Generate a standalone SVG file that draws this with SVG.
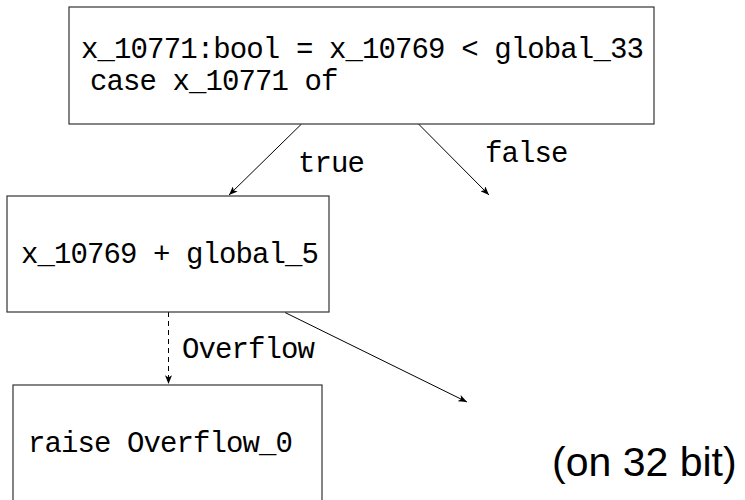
<svg xmlns="http://www.w3.org/2000/svg" width="745" height="500" viewBox="0 0 745 500">
  <style>
    .box { fill: #ffffff; stroke: #333333; stroke-width: 1.2; }
    .code { font-family: "Liberation Mono", "DejaVu Sans Mono", monospace; font-size: 29px; letter-spacing: -0.9px; fill: #000000; }
    .edge { fill: none; stroke: #000000; stroke-width: 1; }
    .dashed { stroke-dasharray: 5 4; }
    .note { font-family: "Liberation Sans", "DejaVu Sans", sans-serif; font-size: 41px; fill: #000000; }
  </style>
  <defs>
    <marker id="arrow" viewBox="0 0 10 8" refX="10" refY="4" markerWidth="9" markerHeight="7" markerUnits="userSpaceOnUse" orient="auto">
      <path d="M0,0 L10,4 L0,8 L2.5,4 Z" fill="#000000"/>
    </marker>
  </defs>

  <rect width="745" height="500" fill="#ffffff"/>

  <g id="connectors">
    <line class="edge" x1="301.5" y1="124" x2="229" y2="195" marker-end="url(#arrow)"/>
    <text class="code" x="298" y="172">true</text>
    <line class="edge" x1="418.5" y1="124" x2="489" y2="195" marker-end="url(#arrow)"/>
    <text class="code" x="485" y="162">false</text>
    <line class="edge dashed" x1="168.5" y1="312" x2="168.5" y2="384" marker-end="url(#arrow)"/>
    <text class="code" x="182" y="358">Overflow</text>
    <line class="edge" x1="285" y1="312.5" x2="467" y2="402" marker-end="url(#arrow)"/>
  </g>

  <g id="node-compare">
    <rect class="box" x="69" y="7" width="585" height="117"/>
    <text class="code" x="81" y="58" textLength="562" lengthAdjust="spacingAndGlyphs">x_10771:bool = x_10769 &lt; global_33</text>
    <text class="code" x="90" y="90">case x_10771 of</text>
  </g>

  <g id="node-add">
    <rect class="box" x="7" y="196" width="322" height="116"/>
    <text class="code" x="21" y="263">x_10769 + global_5</text>
  </g>

  <g id="node-raise">
    <rect class="box" x="13" y="385" width="309" height="120"/>
    <text class="code" x="28" y="452">raise Overflow_0</text>
  </g>

  <g id="note">
    <text class="note" x="552" y="476">(on 32 bit)</text>
  </g>
</svg>
